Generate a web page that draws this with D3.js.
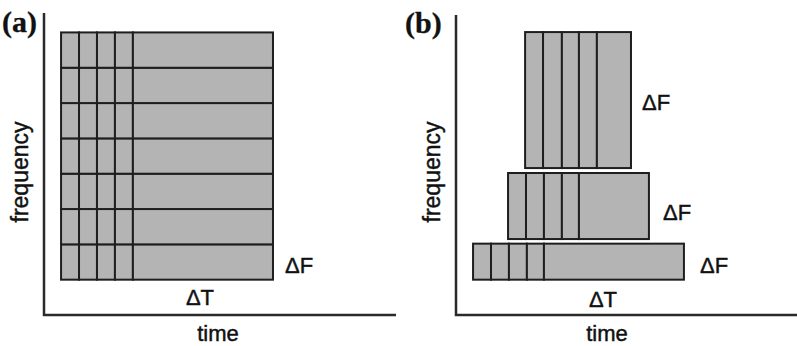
<!DOCTYPE html>
<html>
<head>
<meta charset="utf-8">
<script src="https://cdn.jsdelivr.net/npm/d3@7"></script>
<style>
  html, body { margin: 0; padding: 0; background: #fff; }
  svg { display: block; }
  text { font-family: "Liberation Sans", Arial, sans-serif; fill: #111; stroke: #111; stroke-width: 0.45px; }
</style>
</head>
<body>
<script>
// ---------- data ----------
const panelLabels = ["(a)", "(b)"];
const axisTitles = ["time", "frequency"];
const deltaLabels = ["ΔT", "ΔF"];

// Panel (a): uniform tiling — tile edges in time units, band edges in frequency units
const aTimeEdges = [0.95, 1.95, 2.95, 3.95, 4.95, 12.75];
const aFreqEdges = [1, 2, 3, 4, 5, 6, 7, 8];

// Panel (b): three frequency bands of growing width
const bBandFreq = [[1.0, 2.02], [2.15, 4.02], [4.16, 8.01]];
const bTimeEdgesLow = [0.95, 1.95, 2.95, 3.95, 4.9, 12.7];
const bTimeEdgesMid = [2.9, 3.9, 4.9, 5.9, 6.85, 10.75];
const bTimeEdgesHigh = [3.85, 4.85, 5.9, 6.85, 7.85, 9.75];

// ---------- layout ----------
const W = 797, H = 346;
const svg = d3.select("body").append("svg").attr("width", W).attr("height", H);

const fill = "#b4b4b4", stroke = "#1e1e1e";

function drawCells(g, x, y, timeEdges, f0, f1) {
  const cells = d3.pairs(timeEdges);
  g.append("g").selectAll("rect").data(cells).join("rect")
    .attr("x", d => x(d[0]))
    .attr("y", y(f1))
    .attr("width", d => x(d[1]) - x(d[0]))
    .attr("height", y(f0) - y(f1))
    .attr("fill", fill)
    .attr("stroke", stroke)
    .attr("stroke-width", 2);
}

function drawAxes(g, x, y, tMax, fMax) {
  g.append("path")
    .attr("d", d3.line()([[x(0), y(fMax)], [x(0), y(0)], [x(tMax), y(0)]]))
    .attr("fill", "none")
    .attr("stroke", "#2a2a2a")
    .attr("stroke-width", 2.5);
}

// Panel (a)
const xA = d3.scaleLinear().domain([0, 19.6]).range([44, 396]);
const yA = d3.scaleLinear().domain([0, 8.55]).range([315, 13]);
const gA = svg.append("g");
drawAxes(gA, xA, yA, 19.6, 8.55);
d3.pairs(aFreqEdges).forEach(([f0, f1]) => drawCells(gA, xA, yA, aTimeEdges, f0, f1));

// Panel (b)
const xB = d3.scaleLinear().domain([0, 19]).range([456, 797]);
const yB = d3.scaleLinear().domain([0, 8.55]).range([315, 13]);
const gB = svg.append("g");
drawAxes(gB, xB, yB, 19, 8.49);
[bTimeEdgesLow, bTimeEdgesMid, bTimeEdgesHigh].forEach((edges, i) =>
  drawCells(gB, xB, yB, edges, bBandFreq[i][0], bBandFreq[i][1]));

// ---------- text ----------
const fs = 22;
function label(x, y, s, anchor, size, rot) {
  const t = svg.append("text")
    .attr("text-anchor", anchor || "start")
    .attr("font-size", size || fs)
    .text(s);
  if (rot) t.attr("transform", `translate(${x},${y}) rotate(${rot})`);
  else t.attr("x", x).attr("y", y);
  return t;
}

// panel tags
label(2, 32, panelLabels[0], "start", 30).style("font-family", "'Liberation Serif', 'Times New Roman', serif").style("font-weight", "bold").style("stroke-width", "0.3px");
label(405, 33, panelLabels[1], "start", 30).style("font-family", "'Liberation Serif', 'Times New Roman', serif").style("font-weight", "bold").style("stroke-width", "0.3px");

// axis titles
label(218, 341, axisTitles[0], "middle");
label(607, 341, axisTitles[0], "middle");
label(28, 172, axisTitles[1], "middle", 23, -90);
label(440, 172, axisTitles[1], "middle", 23, -90);

// deltas (a)
label(200, 305, deltaLabels[0], "middle");
label(285, 273, deltaLabels[1]);
// deltas (b)
label(603, 307, deltaLabels[0], "middle");
label(642, 110, deltaLabels[1]);
label(663, 220, deltaLabels[1]);
label(700, 273, deltaLabels[1]);
</script>
</body>
</html>
